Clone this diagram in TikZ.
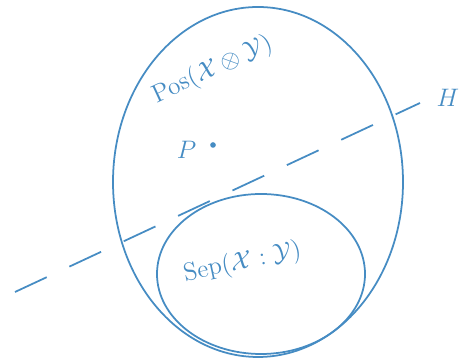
\documentclass[tikz,border=0pt]{standalone}
\usepackage{amsmath,amssymb}
\usepackage{tikz}
\usetikzlibrary{positioning,shapes.geometric}
\definecolor{ink}{RGB}{70,140,195}

\begin{document}
\begin{tikzpicture}[ink,line width=1pt,every node/.style={font=\Large,text=ink}]
\useasboundingbox (0,0) rectangle (9.5,7.2);
% the two convex sets and the hyperplane
\node[draw=ink,ellipse,minimum width=5.8cm,minimum height=7.0cm] (pos) at (5.16,3.56) {};
\node[draw=ink,ellipse,minimum width=4.16cm,minimum height=3.2cm] (sep) at (5.22,1.72) {};
\coordinate (hstart) at (0.3,1.36);
\coordinate (hend) at (8.4,5.14);
\draw[dash pattern=on 0.7cm off 0.5cm] (hstart) -- (hend);
\node[right=2mm of hend,yshift=1mm] (h) {$H$};
\fill (4.26,4.3) circle (1.6pt) coordinate (p);
\node[left=2mm of p,yshift=-1mm] (plabel) {$P$};
\node[rotate=25] (poslabel) at (4.25,5.8) {$\mathrm{Pos}(\mathcal{X}\otimes\mathcal{Y})$};
\node[rotate=12] (seplabel) at (4.85,1.95) {$\mathrm{Sep}(\mathcal{X}:\mathcal{Y})$};
\end{tikzpicture}
\end{document}
